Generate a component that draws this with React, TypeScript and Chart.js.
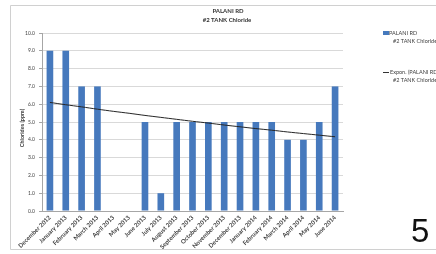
import React, { useEffect, useRef } from "react";
import { Chart, registerables } from "chart.js";

Chart.register(...registerables);

const categories = [
  "December 2012", "January 2013", "February 2013", "March 2013", "April 2013",
  "May 2013", "June 2013", "July 2013", "August 2013", "September 2013",
  "October 2013", "November 2013", "December 2013", "January 2014",
  "February 2014", "March 2014", "April 2014", "May 2014", "June 2014",
];
const chlorideValues = [9, 9, 7, 7, null, null, 5, 1, 5, 5, 5, 5, 5, 5, 5, 4, 4, 5, 7];
const trendValues = [6.1, 5.97, 5.85, 5.72, 5.6, 5.49, 5.37, 5.26, 5.15, 5.04, 4.94, 4.83, 4.73, 4.63, 4.54, 4.44, 4.35, 4.26, 4.17];
const yMin = 0;
const yMax = 10;
const yStep = 1;
const titleLines = ["PALANI RD", "#2 TANK Chloride"];
const seriesLabelLines = ["PALANI RD", "#2 TANK Chloride"];
const trendLabelLines = ["Expon. (PALANI RD", "#2 TANK Chloride)"];
const yAxisTitle = "Chlorides (ppm)";
const slideNumber = "5";

const BAR_COLOR = "#4679bd";
const TEXT_COLOR = "#404040";
const FONT = "Lato, 'Open Sans', sans-serif";

const decorPlugin = {
  id: "decor",
  beforeDraw(chart: any) {
    const ctx = chart.ctx;
    ctx.save();
    ctx.fillStyle = "#ffffff";
    ctx.fillRect(0, 0, chart.width, chart.height);
    ctx.strokeStyle = "#d0d0d0";
    ctx.lineWidth = 1;
    ctx.beginPath();
    ctx.moveTo(chart.width, 5.5);
    ctx.lineTo(10.5, 5.5);
    ctx.lineTo(10.5, 249.5);
    ctx.lineTo(chart.width, 249.5);
    ctx.stroke();
    ctx.restore();
  },
  afterDraw(chart: any) {
    const ctx = chart.ctx;
    ctx.save();
    // Title
    ctx.fillStyle = "#333333";
    ctx.font = `bold 6px ${FONT}`;
    ctx.textAlign = "center";
    ctx.textBaseline = "middle";
    ctx.fillText(titleLines[0], 228, 11);
    ctx.fillText(titleLines[1], 227, 20);

    // Y axis title
    ctx.save();
    ctx.translate(22, 128);
    ctx.rotate(-Math.PI / 2);
    ctx.font = `bold 5.5px ${FONT}`;
    ctx.fillStyle = TEXT_COLOR;
    ctx.fillText(yAxisTitle, 0, 0);
    ctx.restore();

    // Legend
    ctx.font = `5.5px ${FONT}`;
    ctx.textAlign = "left";
    ctx.fillStyle = BAR_COLOR;
    ctx.fillRect(383, 31, 6, 4);
    ctx.fillStyle = TEXT_COLOR;
    ctx.fillText(seriesLabelLines[0], 389, 33);
    ctx.fillText(seriesLabelLines[1], 393, 41);
    ctx.strokeStyle = "#333333";
    ctx.lineWidth = 1;
    ctx.beginPath();
    ctx.moveTo(383, 72.5);
    ctx.lineTo(389, 72.5);
    ctx.stroke();
    ctx.fillText(trendLabelLines[0], 390, 72);
    ctx.fillText(trendLabelLines[1], 393, 80);

    // Slide number
    ctx.fillStyle = "#111111";
    ctx.font = `33px 'Liberation Sans', Arial, sans-serif`;
    ctx.textBaseline = "alphabetic";
    ctx.fillText(slideNumber, 411, 242);
    ctx.restore();
  },
};

export default function App() {
  const canvasRef = useRef<HTMLCanvasElement | null>(null);

  useEffect(() => {
    document.body.style.margin = "0";
    const canvas = canvasRef.current;
    if (!canvas) return;
    const chart = new Chart(canvas, {
      type: "bar",
      data: {
        labels: categories,
        datasets: [
          {
            type: "line",
            label: trendLabelLines.join(" "),
            data: trendValues,
            borderColor: "#262626",
            borderWidth: 1,
            pointRadius: 0,
            fill: false,
            tension: 0.3,
            order: 0,
          } as any,
          {
            type: "bar",
            label: seriesLabelLines.join(" "),
            data: chlorideValues,
            backgroundColor: BAR_COLOR,
            barPercentage: 0.42,
            categoryPercentage: 1,
            order: 1,
          },
        ],
      },
      options: {
        responsive: false,
        animation: false,
        devicePixelRatio: 1,
        layout: { padding: { left: 10, top: 33, right: 93, bottom: 0 } },
        plugins: {
          legend: { display: false },
          title: { display: false },
          tooltip: { enabled: false },
        },
        scales: {
          x: {
            grid: { display: false, drawTicks: false },
            border: { display: true, color: "#a6a6a6" },
            ticks: {
              color: TEXT_COLOR,
              font: { size: 6, family: FONT, weight: "bold" },
              minRotation: 45,
              maxRotation: 45,
              autoSkip: false,
              padding: 3,
            },
            afterFit: (s: any) => {
              s.height = 43;
            },
          },
          y: {
            min: yMin,
            max: yMax,
            ticks: {
              stepSize: yStep,
              color: TEXT_COLOR,
              font: { size: 5, family: FONT },
              callback: (v: any) => Number(v).toFixed(1),
              padding: 4,
            },
            grid: { color: "#d9d9d9", tickLength: 3, tickColor: "#a6a6a6" },
            border: { display: true, color: "#a6a6a6" },
            afterFit: (s: any) => {
              s.width = 32;
            },
          },
        },
      },
      plugins: [decorPlugin],
    });
    return () => chart.destroy();
  }, []);

  return (
    <div style={{ position: "absolute", left: 0, top: 0, width: 436, height: 254 }}>
      <canvas ref={canvasRef} width={436} height={254} style={{ display: "block" }} />
    </div>
  );
}
